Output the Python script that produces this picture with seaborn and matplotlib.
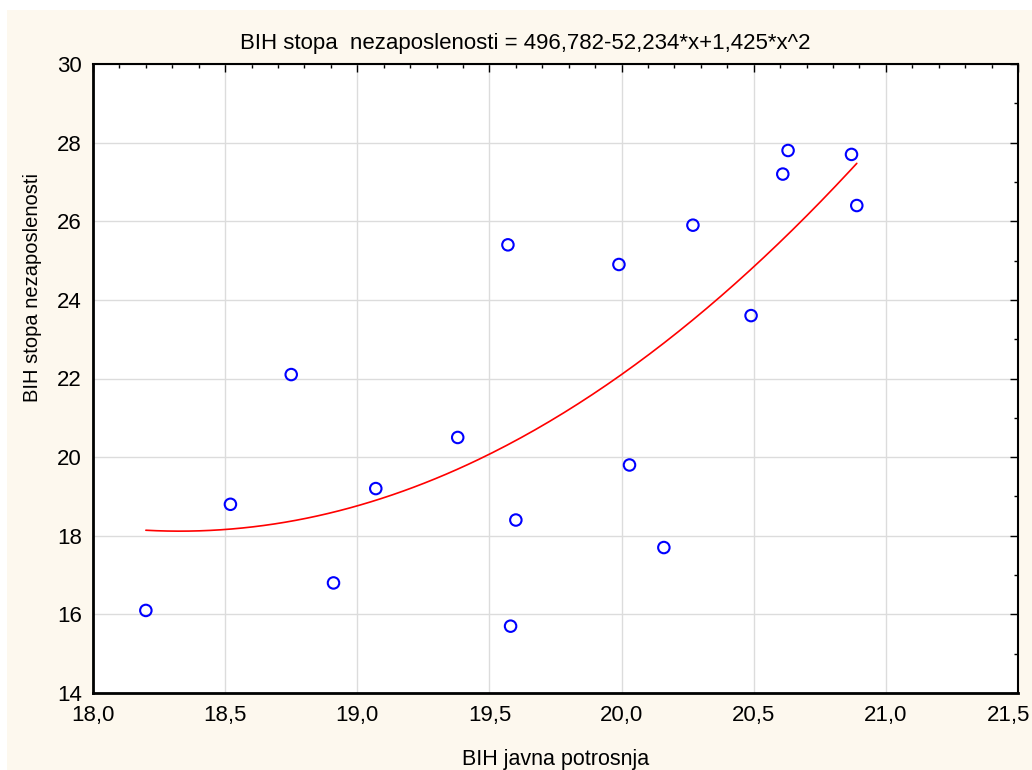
import matplotlib.pyplot as plt
import matplotlib.patches as patches
import numpy as np
import pandas as pd
import seaborn as sns
from matplotlib.ticker import MultipleLocator, FuncFormatter

# values
javna_potrosnja = [18.20, 18.52, 18.75, 18.91, 19.07, 19.38, 19.57, 19.60, 19.58,
                   19.99, 20.03, 20.16, 20.27, 20.49, 20.61, 20.63, 20.87, 20.89]
stopa_nezaposlenosti = [16.1, 18.8, 22.1, 16.8, 19.2, 20.5, 25.4, 18.4, 15.7,
                        24.9, 19.8, 17.7, 25.9, 23.6, 27.2, 27.8, 27.7, 26.4]
# quadratic fit coefficients as given in the title
coef = [496.782, -52.234, 1.425]
x_max = 21.5

df = pd.DataFrame({"x": javna_potrosnja, "y": stopa_nezaposlenosti})
xs = np.linspace(min(javna_potrosnja), max(javna_potrosnja), 200)
fit = pd.DataFrame({"x": xs, "y": coef[0] + coef[1] * xs + coef[2] * xs ** 2})

sns.set_style("white")
plt.rcParams["font.family"] = ["Liberation Sans", "DejaVu Sans"]
plt.rcParams["text.color"] = "black"
plt.rcParams["axes.labelcolor"] = "black"
plt.rcParams["xtick.color"] = "black"
plt.rcParams["ytick.color"] = "black"

fig = plt.figure(figsize=(10.32, 7.70), dpi=100, facecolor="white")
fig.patches.append(patches.Rectangle((7 / 1032, 0), 1, 760 / 770, transform=fig.transFigure,
                                     facecolor="#fdf8ee", edgecolor="none", zorder=-1))
ax = fig.add_axes([93 / 1032, 77 / 770, 925 / 1032, 629 / 770])

sns.lineplot(data=fit, x="x", y="y", color="red", linewidth=1.2, ax=ax, zorder=2)
sns.scatterplot(data=df, x="x", y="y", marker="o", s=68, facecolors="none",
                edgecolor="blue", linewidth=1.5, ax=ax, zorder=3)


def comma(v, p):
    # the last label is drawn separately so it fits against the edge
    if v >= x_max - 1e-9:
        return ""
    return f"{v:.1f}".replace(".", ",")


ax.set_xlim(18.0, x_max)
ax.set_ylim(14, 30)
ax.xaxis.set_major_locator(MultipleLocator(0.5))
ax.xaxis.set_minor_locator(MultipleLocator(0.1))
ax.yaxis.set_major_locator(MultipleLocator(2))
ax.yaxis.set_minor_locator(MultipleLocator(1))
ax.xaxis.set_major_formatter(FuncFormatter(comma))
ax.tick_params(which="both", direction="in", top=True, right=True, labelsize=16,
               color="black", labelcolor="black")
ax.tick_params(axis="x", pad=9)
ax.tick_params(axis="y", pad=8)
ax.tick_params(which="major", length=6, width=1)
ax.tick_params(which="minor", length=3, width=1)
ax.grid(True, which="major", color="#dcdcdc", linewidth=1)
ax.set_axisbelow(True)
for side in ["left", "bottom"]:
    ax.spines[side].set_linewidth(2)
for side in ["top", "right"]:
    ax.spines[side].set_linewidth(1.5)
for s in ax.spines.values():
    s.set_color("black")

ax.annotate(f"{x_max:.1f}".replace(".", ","), xy=(x_max, 0), xycoords=("data", "axes fraction"),
            xytext=(-6.5, -9), textcoords="offset points", ha="center", va="top",
            fontsize=16, annotation_clip=False)

ax.set_xlabel("BIH javna potrosnja", fontsize=15.5, labelpad=16)
ax.set_ylabel("BIH stopa nezaposlenosti", fontsize=14.5)
ax.yaxis.set_label_coords(-51 / 925, 0.644)
ax.set_title("BIH stopa  nezaposlenosti = 496,782-52,234*x+1,425*x^2", fontsize=16,
             pad=11, x=0.467)

fig.savefig("out.png", dpi=100, facecolor=fig.get_facecolor())
